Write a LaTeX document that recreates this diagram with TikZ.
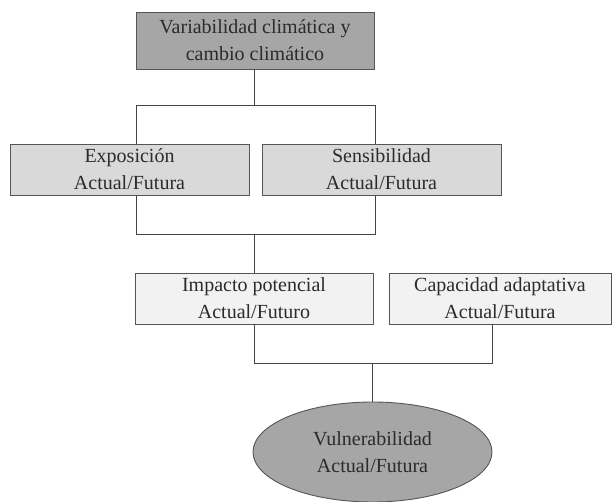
\documentclass[tikz,border=0pt]{standalone}
\usepackage{fontspec}
\setmainfont{Liberation Serif}
\usetikzlibrary{shapes.geometric}
\definecolor{darkfill}{HTML}{A6A6A6}
\definecolor{midfill}{HTML}{D9D9D9}
\definecolor{lightfill}{HTML}{F2F2F2}
\definecolor{edge}{HTML}{555555}
\definecolor{ink}{HTML}{2B2B2B}
\tikzset{
  box/.style={draw=edge, line width=0.9pt, rectangle, inner sep=0pt, align=center,
    text=ink, font=\fontsize{20}{27}\selectfont},
  conn/.style={draw=edge!80!black, line width=0.9pt},
}
\begin{document}
\begin{tikzpicture}[x=1pt,y=-1pt]
\useasboundingbox (0,0) rectangle (614,502);
\node[box, fill=darkfill, minimum width=238pt, minimum height=57pt] (top) at (255,40.5)
  {Variabilidad climática y\\cambio climático};
\node[box, fill=midfill, minimum width=239pt, minimum height=51pt] (expo) at (129.5,169.5)
  {Exposición\\Actual/Futura};
\node[box, fill=midfill, minimum width=239pt, minimum height=51pt] (sens) at (381.5,169.5)
  {Sensibilidad\\Actual/Futura};
\node[box, fill=lightfill, minimum width=238pt, minimum height=51pt] (imp) at (254,298.5)
  {Impacto potencial\\Actual/Futuro};
\node[box, fill=lightfill, minimum width=222pt, minimum height=51pt] (cap) at (500,298.5)
  {Capacidad adaptativa\\Actual/Futura};
\node[box, ellipse, fill=darkfill, minimum width=239pt, minimum height=100pt] (vul) at (372.5,452)
  {Vulnerabilidad\\Actual/Futura};
\coordinate (s1L) at (136,105);
\coordinate (s1R) at (375,105);
\coordinate (s1M) at (254,105);
\coordinate (s2L) at (136,234);
\coordinate (s2R) at (375,234);
\coordinate (s2M) at (254,234);
\coordinate (s3L) at (254,363);
\coordinate (s3R) at (492,363);
\coordinate (s3M) at (372.5,363);
\draw[conn] (top.south -| s1M) -- (s1M);
\draw[conn] (expo.north -| s1L) -- (s1L) -- (s1R) -- (sens.north -| s1R);
\draw[conn] (expo.south -| s2L) -- (s2L) -- (s2R) -- (sens.south -| s2R);
\draw[conn] (s2M) -- (imp.north -| s2M);
\draw[conn] (imp.south -| s3L) -- (s3L) -- (s3R) -- (cap.south -| s3R);
\draw[conn] (s3M) -- (vul.north);
\end{tikzpicture}
\end{document}
